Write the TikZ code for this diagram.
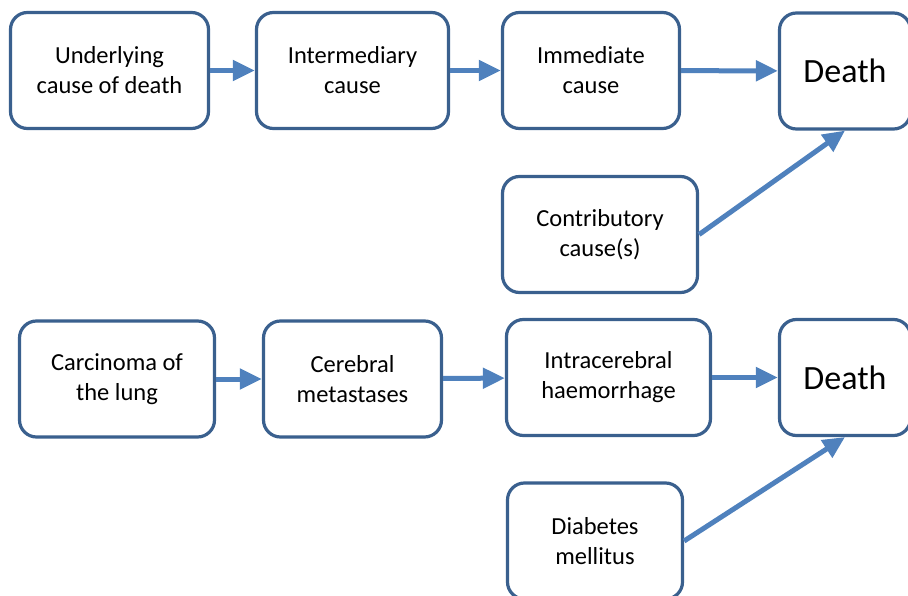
\documentclass[tikz,border=0pt]{standalone}
\usepackage{fontspec}
\setmainfont{Carlito}
\usetikzlibrary{arrows.meta}
\definecolor{boxblue}{RGB}{58,96,142}
\definecolor{arrblue}{RGB}{79,129,189}
\begin{document}
\begin{tikzpicture}[x=1bp,y=1bp] % certificate chain
\tikzstyle{mybox} = [draw=boxblue, line width=3.2bp, rounded corners=17bp, fill=white, align=center, minimum height=116bp, inner sep=2bp, font=\fontsize{24.5bp}{30bp}\selectfont] % cause box style
\tikzstyle{mydeath} = [mybox, minimum width=131bp, font=\fontsize{34bp}{40bp}\selectfont] % final box style
\tikzstyle{myarrow} = [draw=arrblue, line width=5bp, -{Triangle[length=22bp,width=20bp]}] % thick blue arrow
\useasboundingbox (0,0) rectangle (908,-596);
%
% upper chain: the general scheme
\node[mybox, minimum width=198bp] (under) at (109.5,-70.5) {Underlying\\cause of death};
\node[mybox, minimum width=192bp] (inter) at (352.5,-70.5) {Intermediary\\cause};
\node[mybox, minimum width=177bp] (immed) at (591,-70.5) {Immediate\\cause};
\node[mydeath] (death) at (845,-71) {Death};
\node[mybox, minimum width=195bp] (contr) at (600,-234.5) {Contributory\\cause(s)};
%
% lower chain: the example
\node[mybox, minimum width=195bp] (carc) at (117,-379) {Carcinoma of\\the lung};
\node[mybox, minimum width=178bp] (meta) at (352.5,-379) {Cerebral\\metastases};
\node[mybox, minimum width=204bp] (haem) at (608.5,-377.5) {Intracerebral\\haemorrhage};
\node[mydeath] (deathb) at (845,-377.5) {Death};
\node[mybox, minimum width=175bp] (diab) at (595,-541) {Diabetes\\mellitus};
%
\draw[myarrow] (under) -- (inter);
\draw[myarrow] (inter) -- (immed);
\draw[myarrow] (immed) -- (death);
\draw[myarrow] (contr.east) -- (death.south);
\draw[myarrow] (carc) -- (meta);
\draw[myarrow] (meta) -- (haem);
\draw[myarrow] (haem) -- (deathb);
\draw[myarrow] (diab.east) -- (deathb.south);
\end{tikzpicture}
\end{document}
